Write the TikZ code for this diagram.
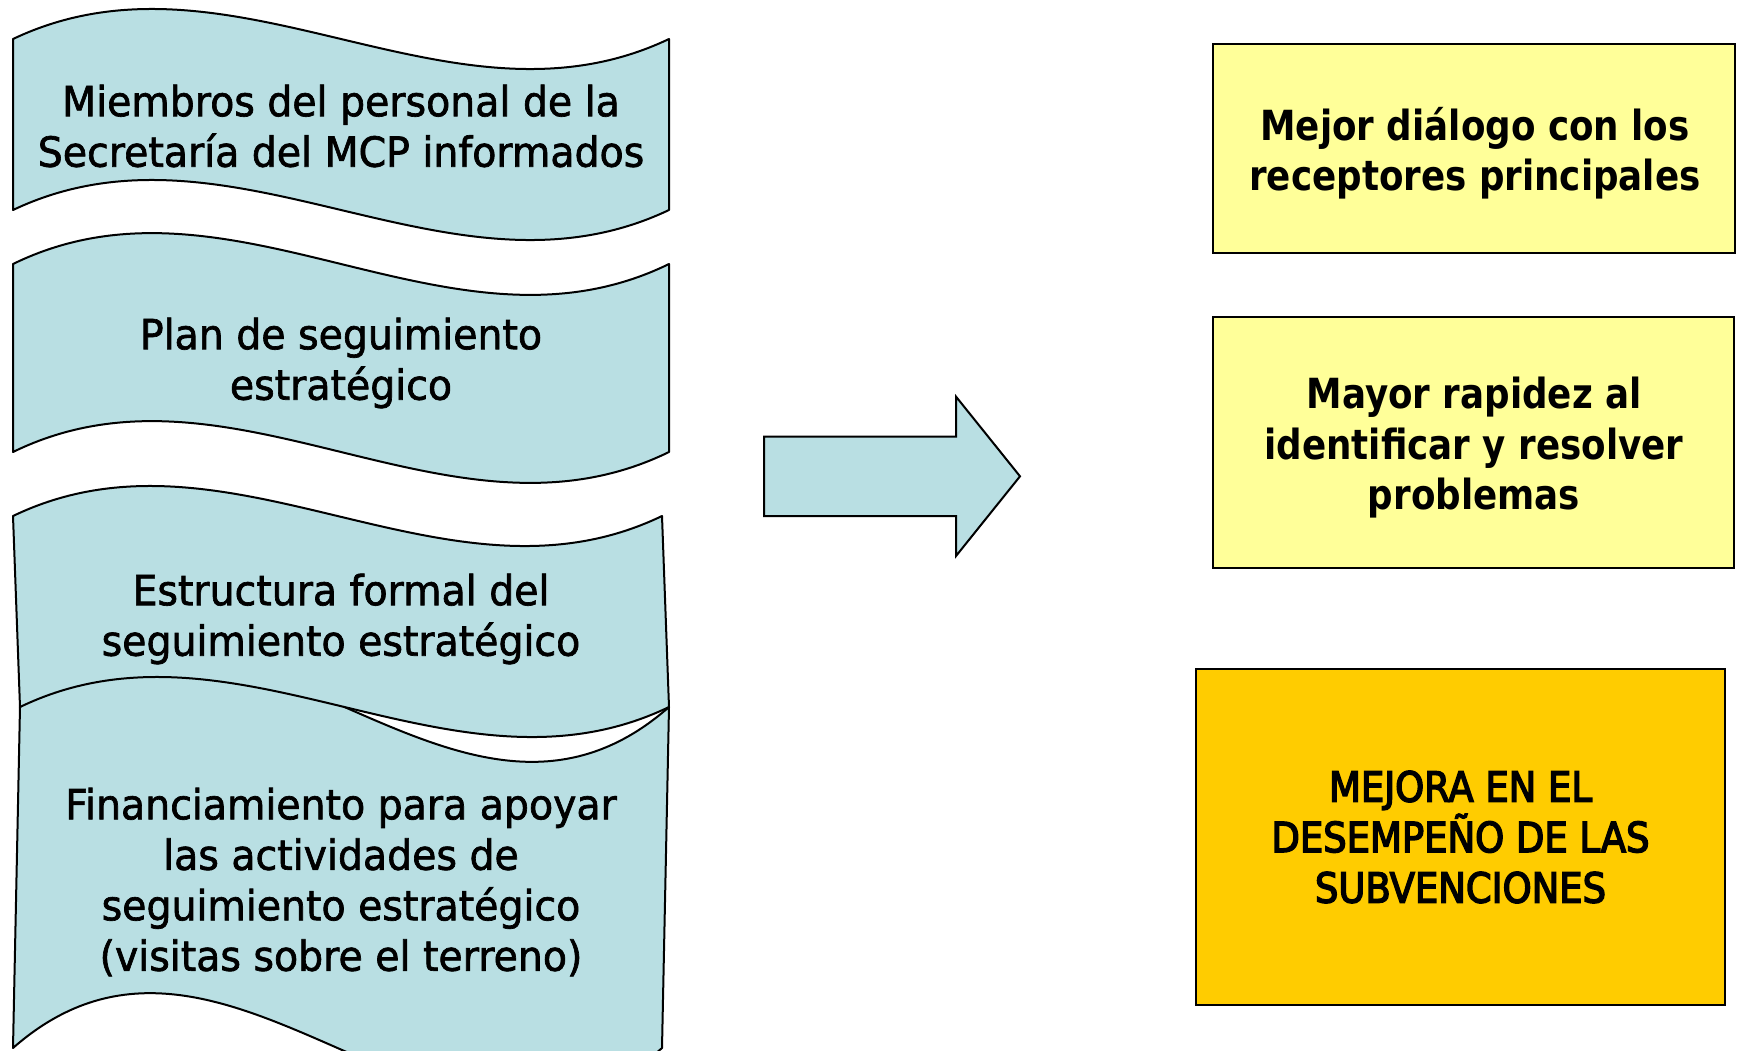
\documentclass[tikz,border=0pt]{standalone}
\usepackage{fontspec}
\setmainfont{DejaVu Sans}[FakeStretch=0.95,FakeBold=1.6]
\newfontfamily\boldfam{DejaVu Sans}[FakeStretch=0.86]
\newfontfamily\capfam{DejaVu Sans}[FakeStretch=0.89,FakeBold=3.5]
\definecolor{wavefill}{HTML}{B9DFE3}
\definecolor{paleyellow}{HTML}{FFFF99}
\definecolor{gold}{HTML}{FFCC00}
\begin{document}
\begin{tikzpicture}[x=1pt,y=-1pt,
  wave/.style={fill=wavefill,draw=black,line width=2pt,line join=round},
  lbl/.style={font=\fontsize{41.5}{50.5}\selectfont,align=center,inner sep=0pt,text=black},
  outbox/.style={draw=black,line width=2.5pt,align=center,inner sep=0pt,
    font=\fontsize{41.5}{50.5}\selectfont},
  boxtext/.style={font=\fontsize{41.5}{50.5}\selectfont,align=center,inner sep=0pt},
  arrowshape/.style={fill=wavefill,draw=black,line width=2pt,line join=miter}]
\useasboundingbox (0,0) rectangle (1737,1050);
\fill[white] (0,0) rectangle (1737,1050);
% wave shapes
\draw[wave] (13,39) .. controls (232,-65) and (450,143) .. (669,39)
  -- (669,210) .. controls (450,314) and (232,106) .. (13,210) -- cycle;
\draw[wave] (13,264) .. controls (232,157) and (450,371) .. (669,264)
  -- (669,452) .. controls (450,559) and (232,345) .. (13,452) -- cycle;
\draw[wave] (20,707) .. controls (236,517) and (453,897) .. (669,707)
  -- (662,1048) .. controls (446,1238) and (229,858) .. (13,1048) -- cycle;
\draw[wave] (13,516) .. controls (229,412) and (446,620) .. (662,516)
  -- (669,707) .. controls (453,811) and (236,603) .. (20,707) -- cycle;
% labels
\node[lbl] (w1) at (341,126) {Miembros del personal de la\\Secretaría del MCP informados};
\node[lbl] (w2) at (341,363) {Plan de seguimiento\\estratégico};
\node[lbl] (w3) at (341,619) {Estructura formal del\\seguimiento estratégico};
\node[lbl] (w4) at (341,882) {Financiamiento para apoyar\\las actividades de\\seguimiento estratégico\\(visitas sobre el terreno)};
% arrow
\draw[arrowshape] (764,436.5) -- (956,436.5) -- (956,396.6) -- (1020,476.3)
  -- (956,556) -- (956,516) -- (764,516) -- cycle;
% result boxes
\node[outbox,fill=paleyellow,minimum width=522pt,minimum height=209pt] (r1) at (1474,148.5) {};
\node[boxtext] (t1) at (1475,153)
  {\boldfam\bfseries Mejor diálogo con los\\\boldfam\bfseries receptores principales};
\node[outbox,fill=paleyellow,minimum width=521pt,minimum height=251pt] (r2) at (1473.5,442.5) {};
\node[boxtext] (t2) at (1474,448)
  {\boldfam\bfseries Mayor rapidez al\\\boldfam\bfseries identificar y resolver\\\boldfam\bfseries problemas};
\node[outbox,fill=gold,minimum width=529pt,minimum height=336pt] (r3) at (1460.5,837)
  {\capfam MEJORA EN EL\\\capfam DESEMPEÑO DE LAS\\\capfam SUBVENCIONES};
\end{tikzpicture}
\end{document}
